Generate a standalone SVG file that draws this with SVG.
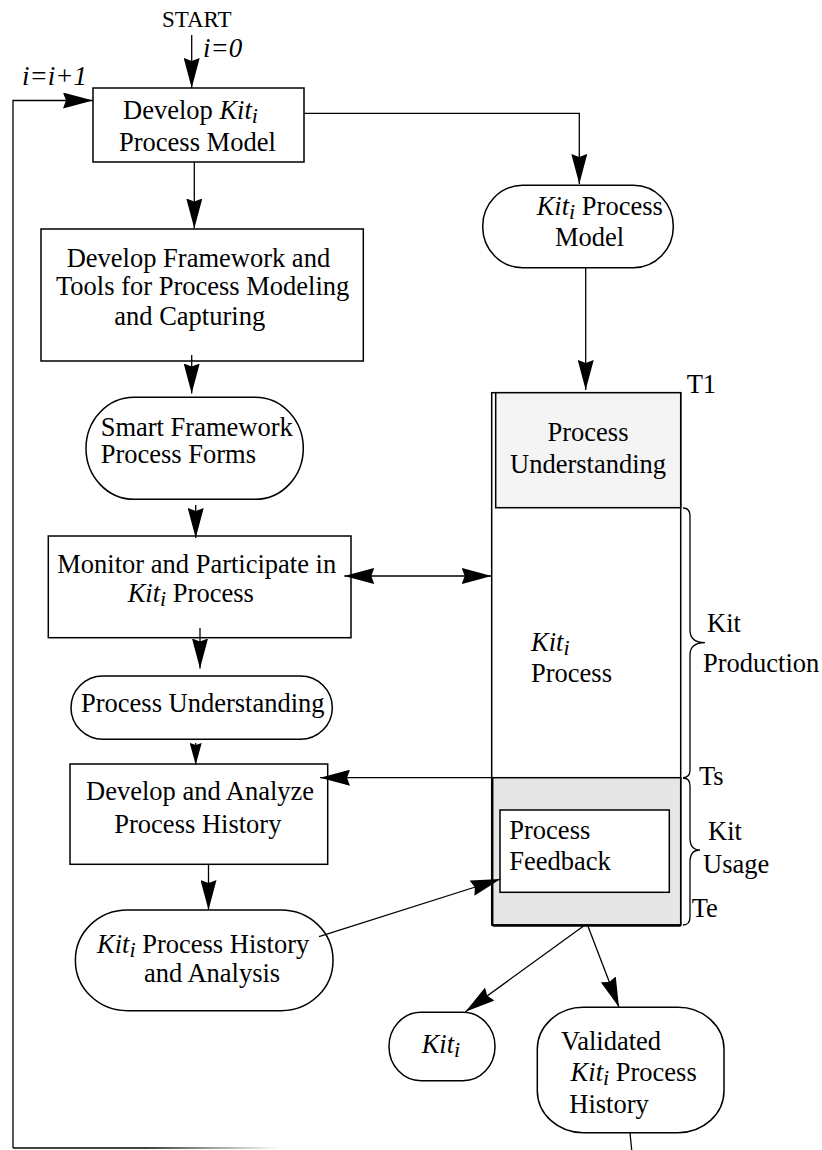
<svg xmlns="http://www.w3.org/2000/svg" width="822" height="1150" viewBox="0 0 822 1150">
<style>
text{font-family:"Liberation Serif","Times New Roman",serif;font-size:26.5px;fill:#000}
.it{font-style:italic}
.sub{font-style:italic;font-size:22px}
.box{fill:#fff;stroke:#000;stroke-width:1.5}
.con{fill:none;stroke:#000;stroke-width:1.3}
.brace{fill:none;stroke:#000;stroke-width:1.3}
</style>
<defs>
<marker id="ah" viewBox="0 0 30 16" markerWidth="30" markerHeight="16" refX="30" refY="8" orient="auto-start-reverse" markerUnits="userSpaceOnUse"><path d="M0,0 L30,8 L0,16 L3,8 Z" fill="#000"/></marker>
<marker id="ahs" viewBox="0 0 22 12" markerWidth="22" markerHeight="12" refX="22" refY="6" orient="auto" markerUnits="userSpaceOnUse"><path d="M0,0 L22,6 L0,12 L2,6 Z" fill="#000"/></marker>
<linearGradient id="fade" gradientUnits="userSpaceOnUse" x1="13" y1="0" x2="280" y2="0"><stop offset="0" stop-color="#000"/><stop offset="0.5" stop-color="#000"/><stop offset="1" stop-color="#fff"/></linearGradient>
</defs>

<g id="labels">
<text x="162" y="27.3" style="font-size:23px">START</text>
<text x="203" y="57" class="it" style="font-size:27px">i=0</text>
<text x="22" y="85" class="it" style="font-size:27px">i=i+1</text>
</g>

<g id="n-develop-model">
<rect class="box" x="93" y="88" width="211" height="74"/>
<text x="123" y="119">Develop <tspan class="it">Kit</tspan><tspan class="sub" dy="4">i</tspan></text>
<text x="119" y="150.7">Process Model</text>
</g>

<g id="n-framework">
<rect class="box" x="41" y="229" width="322.3" height="132"/>
<text x="66.7" y="266.7">Develop Framework and</text>
<text x="56" y="295">Tools for Process Modeling</text>
<text x="114.3" y="325">and Capturing</text>
</g>

<g id="n-smart">
<rect class="box" x="86" y="397.3" width="217.3" height="102" rx="48" ry="51"/>
<text x="100.7" y="436">Smart Framework</text>
<text x="100.7" y="463.3">Process Forms</text>
</g>

<g id="n-monitor">
<rect class="box" x="48.3" y="536" width="302.7" height="101.7"/>
<text x="57.3" y="573.3">Monitor and Participate in</text>
<text x="127.7" y="602.3"><tspan class="it">Kit</tspan><tspan class="sub" dy="4">i</tspan><tspan dy="-4"> Process</tspan></text>
</g>

<g id="n-understanding">
<rect class="box" x="71" y="676" width="261.3" height="63.3" rx="32" ry="31.6"/>
<text x="81" y="711.7">Process Understanding</text>
</g>

<g id="n-analyze">
<rect class="box" x="70" y="764" width="257.7" height="100.3"/>
<text x="86" y="800">Develop and Analyze</text>
<text x="114.3" y="833.3">Process History</text>
</g>

<g id="n-history">
<rect class="box" x="75.4" y="910" width="257.6" height="100.7" rx="52" ry="50"/>
<text x="97" y="953.3"><tspan class="it">Kit</tspan><tspan class="sub" dy="4">i</tspan><tspan dy="-4"> Process History</tspan></text>
<text x="144" y="981.7">and Analysis</text>
</g>

<g id="n-model">
<rect class="box" x="482.7" y="185.3" width="190.6" height="82.4" rx="40" ry="41"/>
<text x="536.7" y="215"><tspan class="it">Kit</tspan><tspan class="sub" dy="4">i</tspan><tspan dy="-4"> Process</tspan></text>
<text x="555" y="245.7">Model</text>
</g>

<g id="n-process">
<rect x="491.7" y="392.7" width="189" height="532.3" fill="#fff" stroke="#000" stroke-width="1.5"/>
<rect x="495.7" y="392.7" width="185" height="115" fill="#f4f4f4" stroke="#000" stroke-width="1.5"/>
<text x="547.5" y="440.7">Process</text>
<text x="510" y="472.7">Understanding</text>
<text x="531" y="650.7"><tspan class="it">Kit</tspan><tspan class="sub" dy="4">i</tspan></text>
<text x="531" y="681.7">Process</text>
<rect x="492.7" y="777.7" width="188" height="147.3" fill="#e6e6e6" stroke="#000" stroke-width="1.5"/>
<line x1="492.7" y1="925.5" x2="680.7" y2="925.5" stroke="#000" stroke-width="2.5"/>
<rect x="500" y="810" width="169.3" height="82.3" fill="#fff" stroke="#000" stroke-width="1.5"/>
<text x="509.3" y="839">Process</text>
<text x="509.3" y="870">Feedback</text>
</g>

<g id="n-timeline">
<text x="686.7" y="392.7">T1</text>
<path class="brace" d="M683,508 Q690,508 690,516 L690,630 Q690,642.7 705,642.7 Q690,642.7 690,655 L690,770 Q690,777.7 683,777.7"/>
<text x="707" y="631.7">Kit</text>
<text x="703" y="671.7">Production</text>
<text x="699" y="785">Ts</text>
<path class="brace" d="M683,778 Q690,778 690,786 L690,838 Q690,850 700,850 Q690,850 690,862 L690,917 Q690,925 683,925"/>
<text x="708" y="840">Kit</text>
<text x="703" y="873">Usage</text>
<text x="691.7" y="916.7">Te</text>
</g>

<g id="n-kit">
<rect class="box" x="389" y="1012.3" width="106" height="68.4" rx="32" ry="34"/>
<text x="421.7" y="1053"><tspan class="it">Kit</tspan><tspan class="sub" dy="4">i</tspan></text>
</g>

<g id="n-validated">
<rect class="box" x="537.3" y="1007.3" width="186.7" height="125.4" rx="46" ry="42"/>
<text x="561" y="1050">Validated</text>
<text x="570.6" y="1081"><tspan class="it">Kit</tspan><tspan class="sub" dy="4">i</tspan><tspan dy="-4"> Process</tspan></text>
<text x="569.3" y="1113">History</text>
</g>

<g id="connectors">
<path class="con" d="M191.7,35 L191.7,88" marker-end="url(#ah)"/>
<path class="con" d="M13,1148 L13,100.5 L93,100.5" marker-end="url(#ah)"/>
<line x1="13" y1="1148" x2="290" y2="1148" stroke="url(#fade)" stroke-width="1.5"/>
<path class="con" d="M304,113.3 L579.3,113.3 L579.3,184" marker-end="url(#ah)"/>
<path class="con" d="M194.3,162 L194.3,228.5" marker-end="url(#ah)"/>
<path class="con" d="M191.7,355 L191.7,393.5" marker-end="url(#ah)"/>
<path class="con" d="M195.7,505 L195.7,538" marker-end="url(#ah)"/>
<path class="con" d="M344.3,576 L491.7,576" marker-start="url(#ah)" marker-end="url(#ah)"/>
<path class="con" d="M200,628 L200,668.5" marker-end="url(#ah)"/>
<path class="con" d="M195.7,743 L195.7,765" marker-end="url(#ahs)"/>
<path class="con" d="M492.7,777.7 L320,777.7" marker-end="url(#ah)"/>
<path class="con" d="M585.7,267.7 L585.7,390" marker-end="url(#ah)"/>
<path class="con" d="M208.5,864.3 L208.5,910" marker-end="url(#ah)"/>
<path class="con" d="M319,936.7 L500.6,879" marker-end="url(#ah)"/>
<path class="con" d="M585,925 L465.4,1011.7" marker-end="url(#ah)"/>
<path class="con" d="M587.5,925 L619,1007.3" marker-end="url(#ah)"/>
<path class="con" d="M630,1132.7 L631.7,1150"/>
</g>
</svg>
